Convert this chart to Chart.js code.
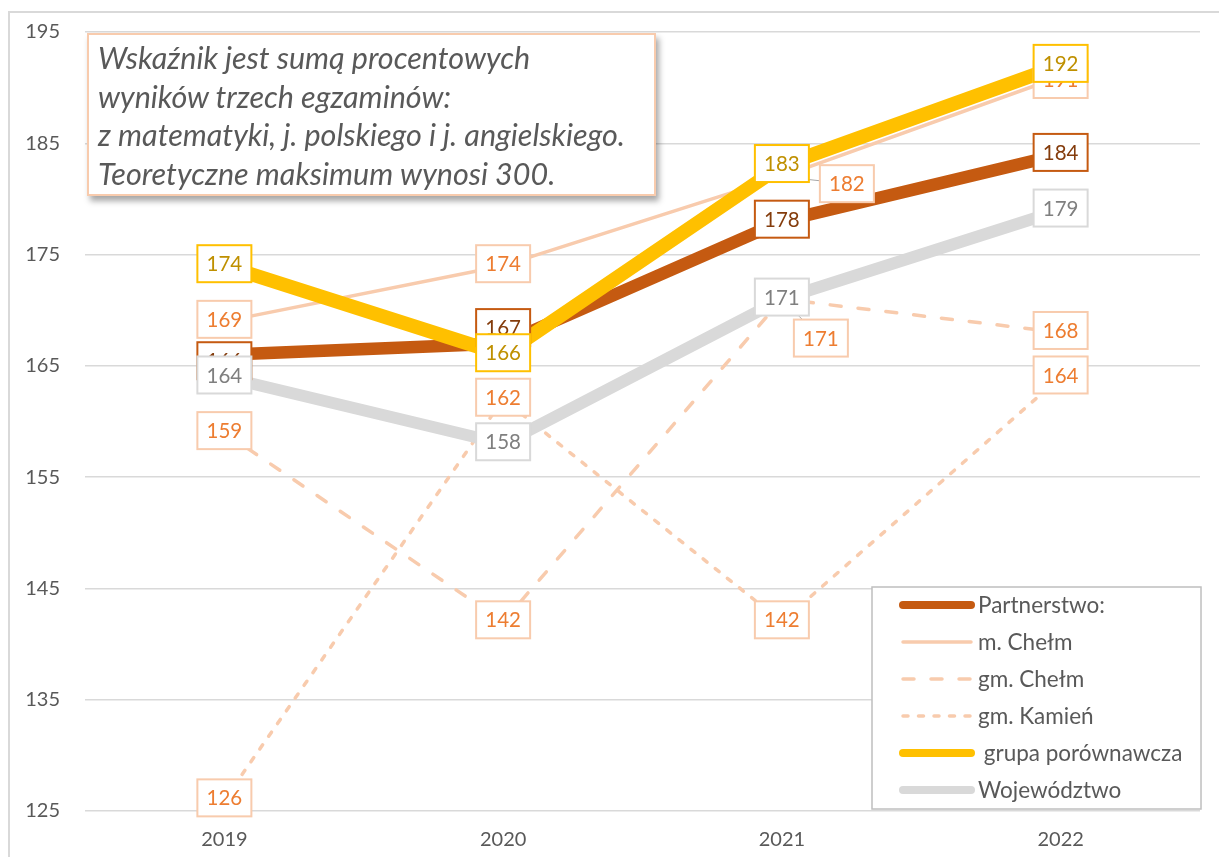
<!DOCTYPE html>
<html>
<head>
<meta charset="utf-8">
<script src="https://cdn.jsdelivr.net/npm/chart.js@4/dist/chart.umd.min.js"></script>
<style>
  html, body { margin: 0; padding: 0; background: #fff; overflow: hidden; }
  .frame {
    position: absolute; left: 8px; top: 11px; width: 1240px; height: 880px;
    border: 2px solid #D9D9D9;
  }
  /* płótno przesunięte w górę, żeby obszar wykresu zaczynał się na y=32 */
  .chart-box { position: absolute; left: 0; top: -5px; width: 1219px; height: 862px; }
  .note {
    position: absolute; left: 87px; top: 33px; width: 569px; height: 163px;
    box-sizing: border-box; background: #fff;
    border: 2px solid #F8CBAD;
    box-shadow: 3px 5px 6px rgba(0, 0, 0, 0.35);
    font: italic 30.5px Lato, sans-serif; color: #595959;
    padding: 3px 0 0 9px; line-height: 38.5px; white-space: nowrap;
  }
</style>
</head>
<body>
<div class="frame"></div>
<div class="chart-box"><canvas id="chart" width="1219" height="862"></canvas></div>
<div class="note">Wskaźnik jest sumą procentowych<br>wyników trzech egzaminów:<br>z matematyki, j. polskiego i j. angielskiego.<br>Teoretyczne maksimum wynosi 300.</div>
<script>
// dane
const years = ["2019", "2020", "2021", "2022"];
const partnerstwo = [166, 167, 178, 184];
const mChelm = [169, 174, 182, 191];
const gmChelm = [159, 142, 171, 168];
const gmKamien = [126, 162, 142, 164];
const grupa = [174, 166, 183, 192];
const wojewodztwo = [164, 158, 171, 179];
const yTicks = [125, 135, 145, 155, 165, 175, 185, 195];

const FONT = "Lato, sans-serif";
const TXT = "#595959";
const PEACH = "#F8CBAD";

// przesunięcia etykiet względem punktu (dataset-punkt), jak w oryginale
const defaultShift = [0, -2];
const labelShift = {
  "0-0": [0, 6],
  "0-1": [0, -16],
  "1-2": [65, 7],
  "1-3": [0, 3],
  "2-2": [39, 39]
};

const datasets = [
  { label: "Partnerstwo:", data: partnerstwo, borderColor: "#C55A11", borderWidth: 12.5, labelColor: "#843C0C", legendWidth: 8, order: 6 },
  { label: "m. Chełm", data: mChelm, borderColor: PEACH, borderWidth: 3.5, labelColor: "#ED7D31", legendWidth: 3.5, order: 5 },
  { label: "gm. Chełm", data: gmChelm, borderColor: PEACH, borderWidth: 3.5, borderDash: [11, 17], labelColor: "#ED7D31", legendWidth: 3.5, order: 4 },
  { label: "gm. Kamień", data: gmKamien, borderColor: PEACH, borderWidth: 3.5, borderDash: [5, 10.5], labelColor: "#ED7D31", legendWidth: 3.5, order: 3 },
  { label: " grupa porównawcza", data: grupa, borderColor: "#FFC000", borderWidth: 14, labelColor: "#BF9000", legendWidth: 8, order: 2 },
  { label: "Województwo", data: wojewodztwo, borderColor: "#D9D9D9", borderWidth: 12, labelColor: "#7F7F7F", legendWidth: 8, order: 1 }
].map(d => Object.assign({
  fill: false, tension: 0, pointRadius: 0, pointHoverRadius: 0,
  borderCapStyle: "round", borderJoinStyle: "round"
}, d));

const boxLabels = {
  id: "boxLabels",
  afterDatasetsDraw(chart) {
    const ctx = chart.ctx;
    const w = 54, h = 37;
    ctx.save();
    // linie odniesienia
    chart.data.datasets.forEach((ds, i) => {
      chart.getDatasetMeta(i).data.forEach((pt, j) => {
        const s = labelShift[i + "-" + j];
        if (!s || Math.hypot(s[0], s[1]) < 25) return;
        ctx.strokeStyle = "#A6A6A6";
        ctx.lineWidth = 1;
        ctx.setLineDash([]);
        ctx.beginPath();
        ctx.moveTo(pt.x, pt.y);
        ctx.lineTo(pt.x + s[0], pt.y + s[1]);
        ctx.stroke();
      });
    });
    ctx.font = "20.5px " + FONT;
    ctx.textAlign = "center";
    ctx.textBaseline = "middle";
    chart.data.datasets.forEach((ds, i) => {
      chart.getDatasetMeta(i).data.forEach((pt, j) => {
        const s = labelShift[i + "-" + j] || defaultShift;
        const cx = pt.x + s[0], cy = pt.y + s[1];
        ctx.fillStyle = "#fff";
        ctx.fillRect(cx - w / 2, cy - h / 2, w, h);
        ctx.strokeStyle = ds.borderColor;
        ctx.lineWidth = 2;
        ctx.setLineDash([]);
        ctx.strokeRect(cx - w / 2, cy - h / 2, w, h);
        ctx.fillStyle = ds.labelColor;
        ctx.fillText(String(ds.data[j]), cx, cy + 1);
      });
    });
    ctx.restore();
  }
};

const boxLegend = {
  id: "boxLegend",
  afterDraw(chart) {
    const ctx = chart.ctx;
    const area = chart.chartArea;
    const bw = 329, bh = 222;
    const bx = area.right - bw + 1, by = area.bottom - bh - 2;
    ctx.save();
    ctx.fillStyle = "#fff";
    ctx.fillRect(bx, by, bw, bh);
    ctx.strokeStyle = "#BFBFBF";
    ctx.lineWidth = 1.5;
    ctx.strokeRect(bx, by, bw, bh);
    ctx.font = "22.5px " + FONT;
    ctx.textBaseline = "middle";
    ctx.textAlign = "left";
    chart.data.datasets.forEach((ds, i) => {
      const y = by + 18 + i * 37;
      ctx.strokeStyle = ds.borderColor;
      ctx.lineWidth = ds.legendWidth;
      ctx.lineCap = "round";
      ctx.setLineDash(ds.borderDash || []);
      ctx.beginPath();
      ctx.moveTo(bx + 31, y);
      ctx.lineTo(bx + 99, y);
      ctx.stroke();
      ctx.fillStyle = TXT;
      ctx.fillText(ds.label, bx + 106, y + 1);
    });
    ctx.restore();
  }
};

new Chart(document.getElementById("chart"), {
  type: "line",
  data: { labels: years, datasets },
  options: {
    responsive: false,
    animation: false,
    devicePixelRatio: 1,
    layout: { padding: { left: 0, top: 24, right: 19, bottom: 0 } },
    plugins: {
      legend: { display: false },
      tooltip: { enabled: false }
    },
    scales: {
      x: {
        type: "category",
        offset: true,
        grid: { display: false, drawTicks: false },
        border: { display: false },
        ticks: { color: TXT, font: { family: FONT, size: 20 }, padding: 17 },
        afterFit(s) { s.height = 46; }
      },
      y: {
        min: yTicks[0],
        max: yTicks[yTicks.length - 1],
        afterBuildTicks(s) { s.ticks = yTicks.map(v => ({ value: v })); },
        grid: { color: "#D9D9D9", lineWidth: 1.5, drawTicks: false },
        border: { display: false },
        ticks: { color: TXT, font: { family: FONT, size: 20 }, padding: 25 },
        afterFit(s) { s.width = 85; }
      }
    }
  },
  plugins: [boxLabels, boxLegend]
});
</script>
</body>
</html>
